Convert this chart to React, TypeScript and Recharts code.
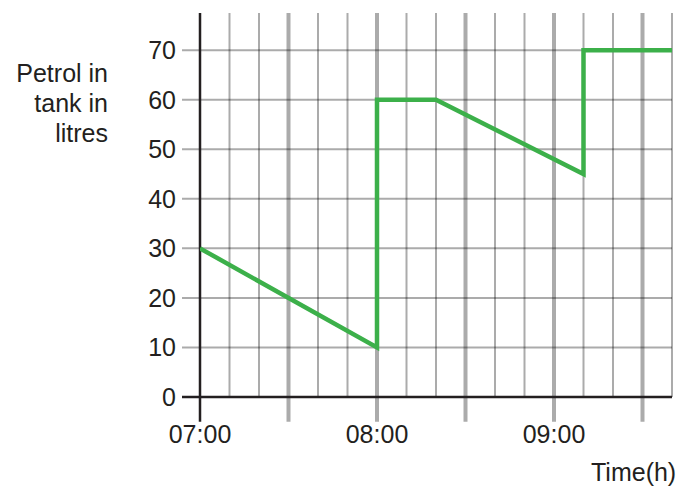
import { LineChart, Line, XAxis, YAxis, ReferenceLine } from 'recharts'

// minutes after 07:00
const timeMin = [0, 60, 60, 80, 130, 130, 160]
const petrol = [30, 10, 60, 60, 45, 70, 70]

const xTicks = [0, 10, 20, 30, 40, 50, 60, 70, 80, 90, 100, 110, 120, 130, 140, 150, 160]
const halfHours = [30, 60, 90, 120, 150]
const xLabels: Record<number, string> = { 0: '07:00', 60: '08:00', 120: '09:00' }
const yTicks = [0, 10, 20, 30, 40, 50, 60, 70]

const data = timeMin.map((t, i) => ({ t, v: petrol[i] }))

const FONT = '"Liberation Sans", Arial, sans-serif'
const INK = '#231f20'
const GRID = 'rgba(0,0,0,0.33)'
const X_MIN = 0
const X_MAX = 160
const Y_MAX = 77.5
const LEFT_EXT = -6.1
const BELOW = -5

export default function App() {
  const thin = xTicks.filter((t) => t !== 0 && !halfHours.includes(t))
  return (
    <div style={{ position: 'absolute', left: 0, top: 0, width: 679, height: 486, background: '#fff' }}>
      <LineChart
        width={679}
        height={486}
        data={data}
        margin={{ top: 13, right: 7, left: 0, bottom: 59 }}
      >
        <XAxis
          type="number"
          dataKey="t"
          domain={[X_MIN, X_MAX]}
          ticks={xTicks}
          allowDataOverflow
          axisLine={false}
          tickLine={false}
          tickSize={0}
          tickMargin={28}
          height={30}
          interval={0}
          tickFormatter={(v: number) => xLabels[v] ?? ''}
          tick={{ fontSize: 25, fontFamily: FONT, fill: INK }}
        />
        <YAxis
          type="number"
          domain={[0, Y_MAX]}
          ticks={yTicks}
          allowDataOverflow
          width={200}
          axisLine={false}
          tickLine={false}
          tickSize={0}
          tickMargin={24}
          interval={0}
          tick={{ fontSize: 25, fontFamily: FONT, fill: INK }}
        />
        {yTicks.filter((y) => y !== 0).map((y) => (
          <ReferenceLine
            key={'h' + y}
            segment={[{ x: LEFT_EXT, y }, { x: X_MAX, y }]}
            stroke={GRID}
            strokeWidth={2}
            ifOverflow="visible"
          />
        ))}
        {thin.map((x) => (
          <ReferenceLine
            key={'v' + x}
            segment={[{ x, y: 0 }, { x, y: Y_MAX }]}
            stroke={GRID}
            strokeWidth={2}
            ifOverflow="visible"
          />
        ))}
        {halfHours.map((x) => (
          <ReferenceLine
            key={'hh' + x}
            segment={[{ x, y: BELOW }, { x, y: Y_MAX }]}
            stroke={GRID}
            strokeWidth={4}
            ifOverflow="visible"
          />
        ))}
        <ReferenceLine
          segment={[{ x: LEFT_EXT, y: 0 }, { x: X_MAX, y: 0 }]}
          stroke={INK}
          strokeWidth={2.5}
          ifOverflow="visible"
        />
        <ReferenceLine
          segment={[{ x: 0, y: BELOW }, { x: 0, y: Y_MAX }]}
          stroke={INK}
          strokeWidth={2.5}
          ifOverflow="visible"
        />
        <Line
          type="linear"
          dataKey="v"
          stroke="#3cb04a"
          strokeWidth={4.5}
          dot={false}
          activeDot={false}
          strokeLinejoin="miter"
          isAnimationActive={false}
        />
      </LineChart>
      <svg
        width={679}
        height={486}
        style={{ position: 'absolute', left: 0, top: 0, pointerEvents: 'none' }}
      >
        <g fontFamily={FONT} fontSize={25} fill={INK} textAnchor="end">
          <text x={108} y={82}>Petrol in</text>
          <text x={108} y={112}>tank in</text>
          <text x={108} y={142}>litres</text>
        </g>
        <text x={591} y={481} fontFamily={FONT} fontSize={25} fill={INK}>Time(h)</text>
      </svg>
    </div>
  )
}
